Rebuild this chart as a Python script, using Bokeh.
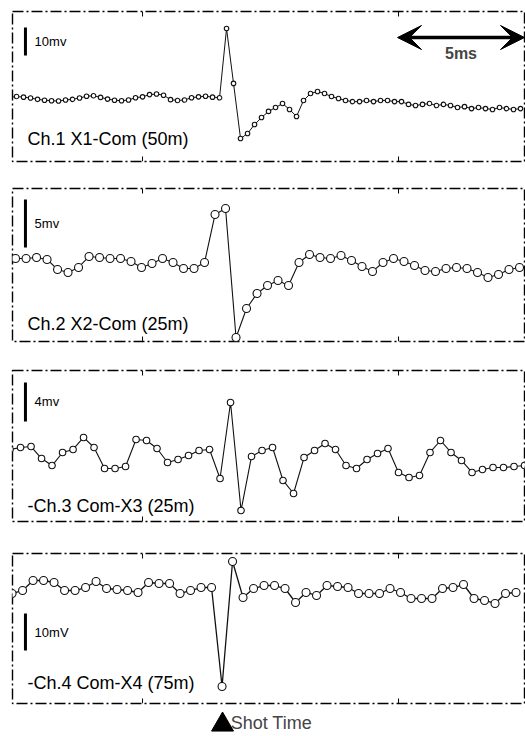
import numpy as np
from bokeh.plotting import figure
from bokeh.layouts import column
from bokeh.models import Range1d, Label, Arrow, VeeHead, ColumnDataSource
from bokeh.embed import file_html
from bokeh.resources import INLINE

# ---------------- data (time in ms, shot time = 0; amplitude in mV) ----------------
X_MIN, X_MAX = -8.27, 11.89

CH1_T0, CH1_DT = -8.386, 0.2756
CH1_MV = [0.4, 0.7, 0.5, 0.2, -0.3, -0.6,
          -0.8, -0.9,
          -0.5, -0.3, 0.2, 0.8, 1.0, 0.4, -0.2,
          -0.6, -0.8, -0.5,
          0.3, 0.6,
          1.4, 1.6, 1.2,
          -0.4, -0.7, -0.5,
          0.3, 0.6, 0.8, 0.5, 0.3,
          25.0, 5.4, -14.3,
          -12.5, -9.3, -6.8, -4.6, -3.2, -1.8, -3.9, -6.4,
          -0.7, 1.8, 2.5, 1.8, 0.7, 0.0, -0.7,
          -1.1, -1.1, -0.7, -1.1, -0.7, -0.7, -1.1, -1.1,
          -2.1, -2.5, -2.1, -1.8, -2.5, -2.1, -2.5,
          -3.2, -2.9, -3.6, -3.2, -3.6, -3.9, -3.2, -3.6, -3.9, -3.6]

CH2_T0, CH2_DT = -8.150, 0.4134
CH2_MV = [0.0, 0.0, 0.1, -0.1, -1.15, -1.46, -0.94, 0.21, 0.1, 0.0,
          0.0, -0.31, -0.94, -0.52, 0.0, -0.42, -1.04, -1.04, -0.42, 4.58,
          5.21, -8.23, -5.21, -3.65, -2.81, -2.29, -2.81, -0.42, 0.42, 0.1,
          0.0, 0.31, -0.21, -0.83, -1.35, -0.42, 0.0, -0.31, -0.73, -1.25,
          -1.35, -1.04, -0.94, -1.04, -1.46, -1.98, -1.67, -1.15, -0.94]

CH3_T0, CH3_DT = -8.366, 0.4134
CH3_MV = [0.62, 0.82, 0.92, -0.31, -1.03, 0.31, 0.62, 1.85, 0.82, -1.33,
          -1.33, -1.13, 1.64, 1.54, 0.72, -0.72, -0.41, 0.0, 0.51, 0.62,
          -2.36, 5.44, -5.64, -0.10, 0.51, 0.82, -2.56, -3.90, -0.21, 0.51,
          1.23, 0.62, -1.03, -1.33, -0.41, 0.21, 0.72, -1.74, -2.26, -2.05,
          0.31, 1.54, 0.31, -0.51, -1.74, -1.44, -1.23, -1.23, -1.13, -1.03]

CH4_T0, CH4_DT = -8.287, 0.4134
CH4_MV = [-0.81, 0.0, 2.70, 2.70, 2.16, 0.0, 0.0, 0.81, 2.43, 0.54,
          0.27, 0.0, -0.54, 2.16, 1.89, 1.89, -0.81, 0.0, 0.81, 0.81,
          -25.95, 7.84, -1.89, 0.54, 1.35, 1.35, 0.54, -3.24, -0.54, -1.35,
          1.35, 1.08, 0.81, -0.81, -0.81, -0.81, 0.54, -0.54, -2.16, -2.16,
          -2.16, 0.54, 0.81, 1.62, -2.16, -2.70, -3.51, -0.81, -0.54]

LABELS = ["Ch.1 X1-Com (50m)", "Ch.2 X2-Com (25m)",
          "-Ch.3 Com-X3 (25m)", "-Ch.4 Com-X4 (75m)"]
SCALE_TEXT = ["10mv", "5mv", "4mv", "10mV"]
SCALE_MV = [10, 5, 4, 10]
SCALE_TOP = [25.4, 6.15, 7.49, -6.22]
Y_RANGES = [(-22.5, 31.1), (-8.65, 7.29), (-6.77, 8.72), (-30.54, 10.0)]
LABEL_Y = [-14.3, -6.8, -5.13, -25.1]
SCALE_X = -7.76
SCALE_TEXT_X = -7.40
LABEL_X = -7.68
TIME_SCALE_MS = 5
TICKS_MS = [-3.15, 6.93]

# ---------------- styling / layout ----------------
FONT = "Liberation Sans"
W = 525
# (border top, frame height, border bottom)
LAYOUT = [(11, 150, 13), (14, 153, 14), (15, 151, 16), (16, 150, 2)]
MARKER_SIZE = [4.5, 8, 6.5, 8]
LINE_W = [1.0, 1.1, 1.1, 1.3]
TICK_PX = 5

series = [(CH1_T0, CH1_DT, CH1_MV), (CH2_T0, CH2_DT, CH2_MV),
          (CH3_T0, CH3_DT, CH3_MV), (CH4_T0, CH4_DT, CH4_MV)]

figs = []
for i, (t0, dt, mv) in enumerate(series):
    bt, fh, bb = LAYOUT[i]
    y0, y1 = Y_RANGES[i]
    p = figure(width=W, height=bt + fh + bb, output_backend="svg", toolbar_location=None,
               x_axis_location=None, y_axis_location=None,
               x_range=Range1d(X_MIN, X_MAX), y_range=Range1d(y0, y1),
               min_border_left=12, min_border_right=1,
               min_border_top=bt, min_border_bottom=bb)
    p.grid.visible = False
    p.background_fill_color = "white"
    p.border_fill_color = "white"
    p.outline_line_color = "black"
    p.outline_line_width = 1.4
    p.outline_line_dash = "11 3 2 3"

    # small inward ticks on the top and bottom borders
    tk = (y1 - y0) / fh * TICK_PX
    n = len(TICKS_MS)
    ticks = ColumnDataSource(dict(
        x0=TICKS_MS * 2, x1=TICKS_MS * 2,
        y0=[y1] * n + [y0] * n, y1=[y1 - tk] * n + [y0 + tk] * n))
    p.segment("x0", "y0", "x1", "y1", source=ticks, line_color="black", line_width=1)

    t = t0 + dt * np.arange(len(mv))
    src = ColumnDataSource(dict(t=t, v=np.array(mv, dtype=float)))
    p.line("t", "v", source=src, line_color="#111111", line_width=LINE_W[i])
    p.scatter("t", "v", source=src, marker="circle", size=MARKER_SIZE[i],
              line_color="#111111", line_width=1.1, fill_color="white")

    # vertical scale bar
    sb = ColumnDataSource(dict(x0=[SCALE_X], y0=[SCALE_TOP[i]],
                               x1=[SCALE_X], y1=[SCALE_TOP[i] - SCALE_MV[i]]))
    p.segment("x0", "y0", "x1", "y1", source=sb, line_color="black", line_width=3)
    p.add_layout(Label(x=SCALE_TEXT_X, y=SCALE_TOP[i] - SCALE_MV[i] / 2,
                       text=SCALE_TEXT[i], text_font=FONT, text_font_size="13px",
                       text_baseline="middle", text_align="left", text_color="black"))
    p.add_layout(Label(x=LABEL_X, y=LABEL_Y[i], text=LABELS[i], text_font=FONT,
                       text_font_size="18px", text_baseline="middle",
                       text_align="left", text_color="black"))
    figs.append(p)

# 5 ms time-scale arrow in panel 1
p1 = figs[0]
mid = X_MAX - TIME_SCALE_MS / 2
for end_x in (X_MAX, X_MAX - TIME_SCALE_MS):
    p1.add_layout(Arrow(x_start=mid, x_end=end_x, y_start=21.8, y_end=21.8,
                        line_width=3.5, line_color="black",
                        end=VeeHead(size=24, fill_color="black", line_color="black")))
p1.add_layout(Label(x=mid, y=16.0, text=f"{TIME_SCALE_MS}ms",
                    text_font=FONT, text_font_size="16px", text_font_style="bold",
                    text_align="center", text_baseline="middle"))

# Shot time marker strip
ps = figure(width=W, height=31, output_backend="svg", toolbar_location=None,
            x_axis_location=None, y_axis_location=None,
            x_range=Range1d(X_MIN, X_MAX), y_range=Range1d(0, 1),
            min_border_left=12, min_border_right=1, min_border_top=0, min_border_bottom=0)
ps.grid.visible = False
ps.outline_line_color = None
ps.scatter(x=[0.0], y=[0.38], marker="triangle", size=22, fill_color="black",
           line_color="black")
ps.add_layout(Label(x=0.32, y=0.42, text="Shot Time", text_font=FONT,
                    text_font_size="18px", text_baseline="middle", text_align="left"))
figs.append(ps)

layout = column(*figs, spacing=0)
open("out.html", "w").write(file_html(layout, INLINE))
